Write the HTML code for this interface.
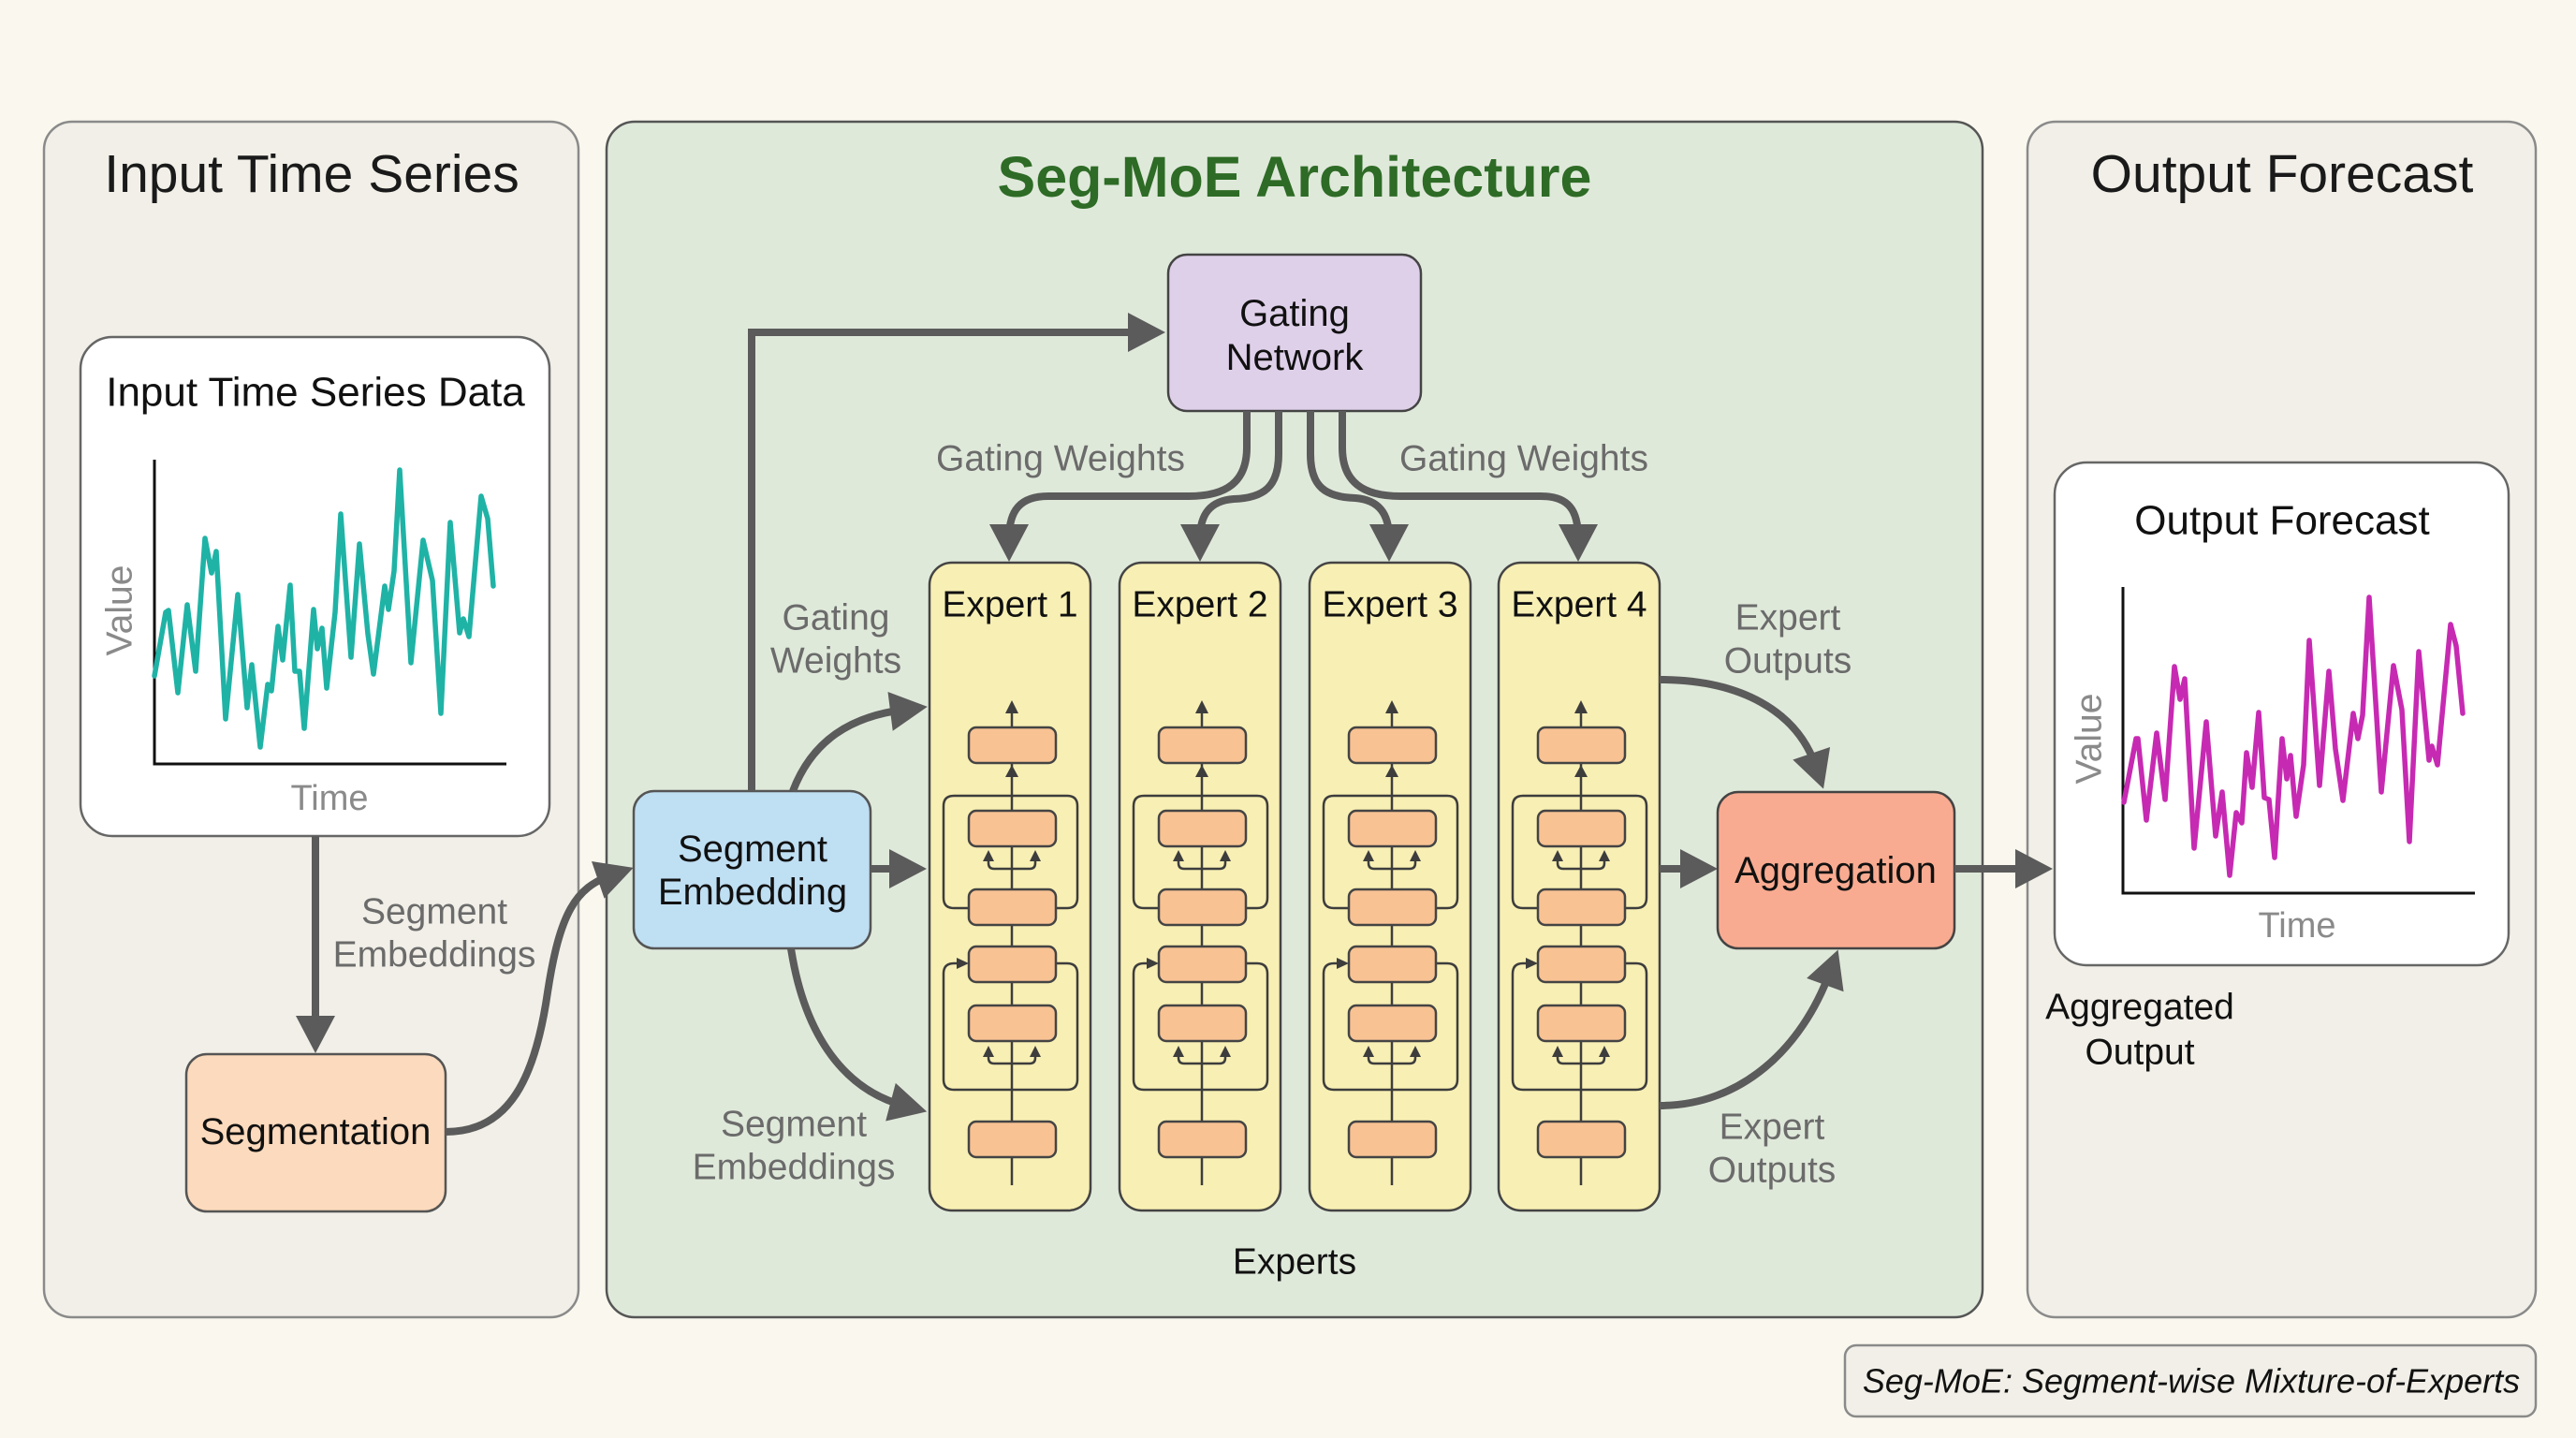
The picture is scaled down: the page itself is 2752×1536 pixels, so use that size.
<!DOCTYPE html>
<html>
<head>
<meta charset="utf-8">
<style>
  html,body{margin:0;padding:0;background:#faf8ee;}
  body{width:2752px;height:1536px;overflow:hidden;}
  svg{display:block;}
  text{font-family:"Liberation Sans", Arial, sans-serif;}
</style>
</head>
<body>
<svg width="2752" height="1536" viewBox="0 0 2752 1536" xmlns="http://www.w3.org/2000/svg">
  <defs>
    <marker id="ah" markerUnits="userSpaceOnUse" markerWidth="44" markerHeight="44" refX="15" refY="21" orient="auto" overflow="visible">
      <path d="M0,0 L40,21 L0,42 Z" fill="#5b5b5b"/>
    </marker>
  </defs>

  <!-- background -->
  <rect x="0" y="0" width="2752" height="1536" fill="#faf8ee"/>

  <!-- panels -->
  <rect x="47" y="130" width="571" height="1277" rx="30" fill="#f1efe7" stroke="#8a8a8a" stroke-width="2.5"/>
  <rect x="648" y="130" width="1470" height="1277" rx="30" fill="#dfe9da" stroke="#555" stroke-width="2.5"/>
  <rect x="2166" y="130" width="543" height="1277" rx="30" fill="#f1efe7" stroke="#8a8a8a" stroke-width="2.5"/>

  <!-- panel titles -->
  <text x="333" y="186" font-size="57" fill="#1a1a1a" text-anchor="middle" dominant-baseline="central">Input Time Series</text>
  <text x="1383" y="189" font-size="61" font-weight="bold" fill="#2e6b26" text-anchor="middle" dominant-baseline="central">Seg-MoE Architecture</text>
  <text x="2438" y="186" font-size="57" fill="#1a1a1a" text-anchor="middle" dominant-baseline="central">Output Forecast</text>

  <!-- Input chart box -->
  <rect x="86" y="360" width="501" height="533" rx="34" fill="#ffffff" stroke="#666" stroke-width="2.5"/>
  <text x="337" y="419" font-size="44" fill="#111" text-anchor="middle" dominant-baseline="central">Input Time Series Data</text>
  <path d="M165,491 V816 H541" fill="none" stroke="#111" stroke-width="3"/>
  <polyline fill="none" stroke="#1fb3a6" stroke-width="5.5" stroke-linejoin="round" stroke-linecap="round"
    points="165,722 177,654 180,652 190,740 200,646 209,717 219,575 226,612 231,589 241,768 254,635 264,756 269,710 278,798 286,731 290,738 297,669 302,705 310,625 315,717 320,717 325,778 335,651 339,693 344,671 349,735 358,654 364,549 375,702 384,581 393,677 399,720 411,626 415,651 421,610 427,502 439,708 452,577 462,620 471,762 481,558 491,676 495,661 501,680 514,530 521,554 527,626"/>
  <text x="128" y="652" font-size="39" fill="#8a8a8a" text-anchor="middle" dominant-baseline="central" transform="rotate(-90 128 652)">Value</text>
  <text x="352" y="853" font-size="38" fill="#8a8a8a" text-anchor="middle" dominant-baseline="central">Time</text>

  <!-- left vertical arrow -->
  <path d="M337,893 V1100" fill="none" stroke="#5b5b5b" stroke-width="8" marker-end="url(#ah)"/>
  <text x="464" y="974" font-size="39" fill="#6b6b6b" text-anchor="middle" dominant-baseline="central">Segment</text>
  <text x="464" y="1020" font-size="39" fill="#6b6b6b" text-anchor="middle" dominant-baseline="central">Embeddings</text>

  <!-- Segmentation -->
  <rect x="199" y="1126" width="277" height="168" rx="22" fill="#fcdabd" stroke="#555" stroke-width="2.5"/>
  <text x="337" y="1209" font-size="40" fill="#111" text-anchor="middle" dominant-baseline="central">Segmentation</text>

  <!-- Segmentation -> Segment Embedding -->
  <path d="M476,1209 C545,1209 572,1150 585,1060 C598,975 615,948 653,935" fill="none" stroke="#5b5b5b" stroke-width="8" marker-end="url(#ah)"/>

  <!-- Segment Embedding box -->
  <rect x="677" y="845" width="253" height="168" rx="22" fill="#bfdff3" stroke="#555" stroke-width="2.5"/>
  <text x="804" y="907" font-size="40" fill="#111" text-anchor="middle" dominant-baseline="central">Segment</text>
  <text x="804" y="953" font-size="40" fill="#111" text-anchor="middle" dominant-baseline="central">Embedding</text>

  <!-- Seg Embedding -> Gating -->
  <path d="M803,845 V355 H1220" fill="none" stroke="#5b5b5b" stroke-width="8" marker-end="url(#ah)"/>

  <!-- Gating Network -->
  <rect x="1248" y="272" width="270" height="167" rx="20" fill="#dfd0ea" stroke="#444" stroke-width="2.5"/>
  <text x="1383" y="335" font-size="40" fill="#111" text-anchor="middle" dominant-baseline="central">Gating</text>
  <text x="1383" y="382" font-size="40" fill="#111" text-anchor="middle" dominant-baseline="central">Network</text>

  <!-- Gating curves -->
  <g fill="none" stroke="#5b5b5b" stroke-width="8">
    <path d="M1332,439 V478 C1332,515 1310,530 1270,530 H1120 C1090,530 1078,545 1078,575" marker-end="url(#ah)"/>
    <path d="M1366,439 V485 C1366,520 1350,532 1318,533 C1292,535 1282,550 1282,575" marker-end="url(#ah)"/>
    <path d="M1400,439 V485 C1400,520 1416,531 1448,532 C1474,534 1484,550 1484,575" marker-end="url(#ah)"/>
    <path d="M1434,439 V478 C1434,515 1456,530 1496,530 H1646 C1676,530 1686,545 1686,575" marker-end="url(#ah)"/>
  </g>
  <text x="1133" y="490" font-size="39" fill="#6b6b6b" text-anchor="middle" dominant-baseline="central">Gating Weights</text>
  <text x="1628" y="490" font-size="39" fill="#6b6b6b" text-anchor="middle" dominant-baseline="central">Gating Weights</text>

  <!-- Seg Embedding -> Expert 1 -->
  <g fill="none" stroke="#5b5b5b" stroke-width="8">
    <path d="M847,845 C868,790 910,765 966,758" marker-end="url(#ah)"/>
    <path d="M930,928 H965" marker-end="url(#ah)"/>
    <path d="M845,1013 C860,1110 905,1165 966,1181" marker-end="url(#ah)"/>
  </g>
  <text x="893" y="660" font-size="39" fill="#6b6b6b" text-anchor="middle" dominant-baseline="central">Gating</text>
  <text x="893" y="706" font-size="39" fill="#6b6b6b" text-anchor="middle" dominant-baseline="central">Weights</text>
  <text x="848" y="1201" font-size="39" fill="#6b6b6b" text-anchor="middle" dominant-baseline="central">Segment</text>
  <text x="848" y="1247" font-size="39" fill="#6b6b6b" text-anchor="middle" dominant-baseline="central">Embeddings</text>

  <!-- Expert boxes -->
  <g fill="#f8efb4" stroke="#444" stroke-width="2.5">
    <rect x="993" y="601" width="172" height="692" rx="24"/>
    <rect x="1196" y="601" width="172" height="692" rx="24"/>
    <rect x="1399" y="601" width="172" height="692" rx="24"/>
    <rect x="1601" y="601" width="172" height="692" rx="24"/>
  </g>
  <g font-size="39" fill="#111" text-anchor="middle" dominant-baseline="central">
    <text x="1079" y="646">Expert 1</text>
    <text x="1282" y="646">Expert 2</text>
    <text x="1485" y="646">Expert 3</text>
    <text x="1687" y="646">Expert 4</text>
  </g>

  <!-- Expert internals template (E1 at cx=1081) -->
  <g id="exp">
    <g fill="none" stroke="#3d3d3d" stroke-width="2.5">
      <path d="M1081,1266 V760"/>
      <path d="M1035,970 H1019 Q1008,970 1008,959 V861 Q1008,850 1019,850 H1140 Q1151,850 1151,861 V959 Q1151,970 1140,970 H1128"/>
      <path d="M1056,918 V922 Q1056,928 1062,928 H1100 Q1106,928 1106,922 V918"/>
      <path d="M1128,1029 H1140 Q1151,1029 1151,1040 V1153 Q1151,1164 1140,1164 H1019 Q1008,1164 1008,1153 V1040 Q1008,1029 1019,1029 H1024"/>
      <path d="M1056,1127 V1130 Q1056,1136 1062,1136 H1100 Q1106,1136 1106,1130 V1127"/>
    </g>
    <g fill="#3d3d3d">
      <polygon points="1081,748 1074,762 1088,762"/>
      <polygon points="1081,817 1074,830 1088,830"/>
      <polygon points="1056,908 1050,920 1062,920"/>
      <polygon points="1106,908 1100,920 1112,920"/>
      <polygon points="1035,1029 1022,1023 1022,1035"/>
      <polygon points="1056,1117 1050,1129 1062,1129"/>
      <polygon points="1106,1117 1100,1129 1112,1129"/>
    </g>
    <g fill="#f8c293" stroke="#444" stroke-width="2.5">
      <rect x="1035" y="777" width="93" height="38" rx="8"/>
      <rect x="1035" y="866" width="93" height="38" rx="8"/>
      <rect x="1035" y="950" width="93" height="38" rx="8"/>
      <rect x="1035" y="1011" width="93" height="38" rx="8"/>
      <rect x="1035" y="1074" width="93" height="38" rx="8"/>
      <rect x="1035" y="1198" width="93" height="38" rx="8"/>
    </g>
  </g>
  <use href="#exp" transform="translate(203,0)"/>
  <use href="#exp" transform="translate(406,0)"/>
  <use href="#exp" transform="translate(608,0)"/>

  <text x="1383" y="1348" font-size="39" fill="#111" text-anchor="middle" dominant-baseline="central">Experts</text>

  <!-- Expert 4 -> Aggregation -->
  <g fill="none" stroke="#5b5b5b" stroke-width="8">
    <path d="M1773,726 C1860,726 1920,760 1940,819" marker-end="url(#ah)"/>
    <path d="M1773,928 H1810" marker-end="url(#ah)"/>
    <path d="M1773,1181 C1860,1181 1925,1120 1955,1038" marker-end="url(#ah)"/>
  </g>
  <text x="1910" y="660" font-size="39" fill="#6b6b6b" text-anchor="middle" dominant-baseline="central">Expert</text>
  <text x="1910" y="706" font-size="39" fill="#6b6b6b" text-anchor="middle" dominant-baseline="central">Outputs</text>
  <text x="1893" y="1204" font-size="39" fill="#6b6b6b" text-anchor="middle" dominant-baseline="central">Expert</text>
  <text x="1893" y="1250" font-size="39" fill="#6b6b6b" text-anchor="middle" dominant-baseline="central">Outputs</text>

  <!-- Aggregation -->
  <rect x="1835" y="846" width="253" height="167" rx="22" fill="#f9ab91" stroke="#444" stroke-width="2.5"/>
  <text x="1961" y="930" font-size="40" fill="#111" text-anchor="middle" dominant-baseline="central">Aggregation</text>

  <!-- Aggregation -> Output -->
  <path d="M2088,928 H2168" fill="none" stroke="#5b5b5b" stroke-width="8" marker-end="url(#ah)"/>

  <!-- Output chart box -->
  <rect x="2195" y="494" width="485" height="537" rx="34" fill="#ffffff" stroke="#666" stroke-width="2.5"/>
  <text x="2438" y="556" font-size="44" fill="#111" text-anchor="middle" dominant-baseline="central">Output Forecast</text>
  <path d="M2268,627 V954 H2644" fill="none" stroke="#111" stroke-width="3"/>
  <polyline fill="none" stroke="#c72ab2" stroke-width="5.5" stroke-linejoin="round" stroke-linecap="round"
    points="2269,857 2282,789 2284,789 2293,876 2304,783 2313,854 2323,712 2329,747 2334,725 2344,906 2357,771 2367,893 2374,846 2382,935 2389,868 2395,879 2400,804 2406,841 2413,761 2419,852 2424,854 2430,916 2438,789 2443,832 2447,807 2453,872 2461,817 2467,684 2478,839 2488,717 2495,800 2503,855 2514,762 2519,789 2524,764 2531,638 2544,846 2557,711 2566,758 2574,899 2584,696 2595,812 2598,797 2604,817 2618,667 2624,690 2631,762"/>
  <text x="2232" y="789" font-size="39" fill="#8a8a8a" text-anchor="middle" dominant-baseline="central" transform="rotate(-90 2232 789)">Value</text>
  <text x="2454" y="989" font-size="38" fill="#8a8a8a" text-anchor="middle" dominant-baseline="central">Time</text>

  <text x="2286" y="1076" font-size="39" fill="#111" text-anchor="middle" dominant-baseline="central">Aggregated</text>
  <text x="2286" y="1124" font-size="39" fill="#111" text-anchor="middle" dominant-baseline="central">Output</text>

  <!-- caption -->
  <rect x="1971" y="1437" width="738" height="76" rx="12" fill="#f1efe7" stroke="#8a8a8a" stroke-width="2.5"/>
  <text x="2341" y="1475" font-size="36" font-style="italic" fill="#111" text-anchor="middle" dominant-baseline="central">Seg-MoE: Segment-wise Mixture-of-Experts</text>
</svg>
</body>
</html>
